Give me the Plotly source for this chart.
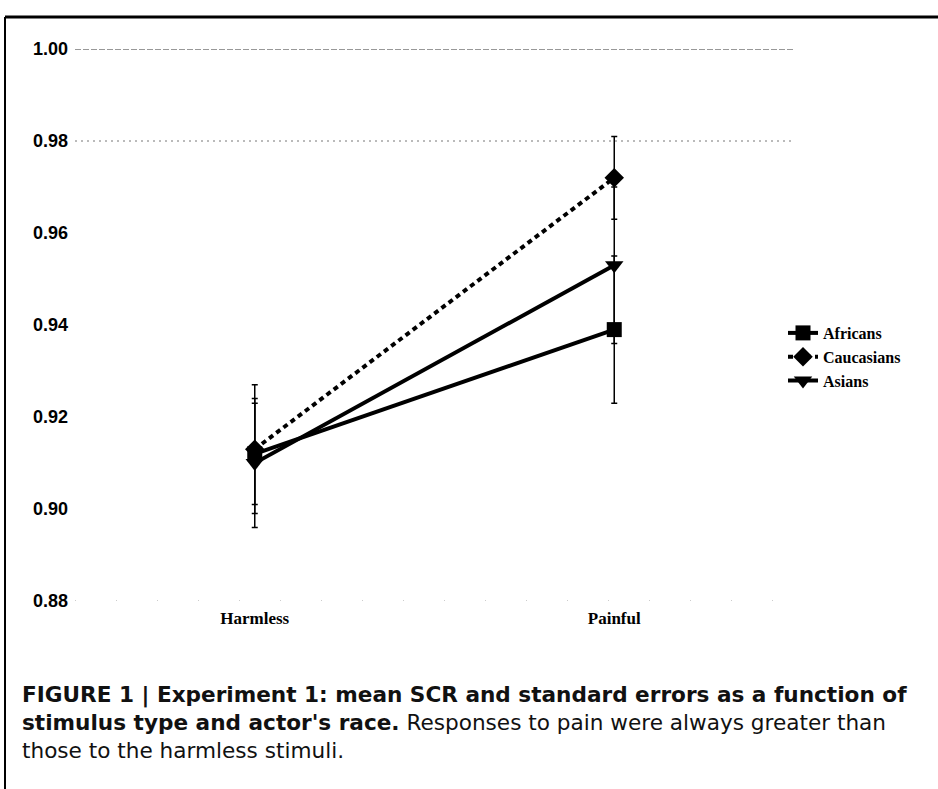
import plotly.graph_objects as go

# Stimulus categories on the x axis
stimuli = ["Harmless", "Painful"]

# Mean skin conductance response per actor race
africans_mean = [0.912, 0.939]
caucasians_mean = [0.913, 0.972]
asians_mean = [0.910, 0.953]

# Standard errors
africans_se = [0.011, 0.016]
caucasians_se = [0.014, 0.009]
asians_se = [0.014, 0.017]

# Y axis ticks
y_ticks = [0.88, 0.90, 0.92, 0.94, 0.96, 0.98, 1.00]

W, H = 938, 789
ML, MR, MT, MB = 75, 144, 49, 188
PW, PH = W - ML - MR, H - MT - MB


def px_x(px):
    return (px - ML) / PW


def px_y(py):
    return (H - MB - py) / PH


series = [
    ("Africans", africans_mean, africans_se, "square", "solid", 15),
    ("Caucasians", caucasians_mean, caucasians_se, "diamond", "5px,4px", 15),
    ("Asians", asians_mean, asians_se, "triangle-down", "solid", 16),
]

fig = go.Figure()
for name, means, ses, symbol, dash, msize in series:
    fig.add_trace(go.Scatter(
        x=stimuli, y=means, name=name, mode="lines+markers",
        line=dict(color="black", width=4, dash=dash),
        marker=dict(symbol=symbol, size=msize, color="black"),
        error_y=dict(type="data", array=ses, visible=True,
                     color="black", thickness=1.5, width=3),
    ))

shapes = [
    # frame lines of the figure panel
    dict(type="line", xref="paper", yref="paper",
         x0=px_x(5), x1=px_x(938), y0=px_y(17), y1=px_y(17),
         line=dict(color="black", width=3)),
    dict(type="line", xref="paper", yref="paper",
         x0=px_x(5), x1=px_x(5), y0=px_y(17), y1=px_y(789),
         line=dict(color="black", width=2)),
    # reference lines
    dict(type="line", xref="paper", yref="y", x0=0, x1=1, y0=1.00, y1=1.00,
         line=dict(color="#333", width=1, dash="6px,2px")),
    dict(type="line", xref="paper", yref="y", x0=0, x1=1, y0=0.98, y1=0.98,
         line=dict(color="#777", width=1, dash="2px,4px")),
    dict(type="line", xref="paper", yref="y", x0=0, x1=1, y0=0.88, y1=0.88,
         line=dict(color="#999", width=1, dash="1px,40px")),
]

caption = (
    "<b>FIGURE 1 | Experiment 1: mean SCR and standard errors as a function of</b><br>"
    "<b>stimulus type and actor's race.</b> Responses to pain were always greater than<br>"
    "those to the harmless stimuli."
)
annotations = [
    dict(xref="paper", yref="paper", x=px_x(20), y=px_y(722),
         xanchor="left", yanchor="middle", align="left", showarrow=False,
         font=dict(family="DejaVu Sans", size=21.6, color="#111"),
         text=caption),
]

fig.update_layout(
    width=W, height=H,
    margin=dict(l=ML, r=MR, t=MT, b=MB),
    paper_bgcolor="white", plot_bgcolor="white",
    showlegend=True,
    legend=dict(x=px_x(783), y=px_y(357), xanchor="left", yanchor="middle",
                font=dict(family="Liberation Serif", size=16, color="black", weight="bold"),
                itemwidth=30, tracegroupgap=0, bgcolor="rgba(0,0,0,0)"),
    xaxis=dict(type="category", range=[-0.5, 1.5], showgrid=False, zeroline=False,
               showline=False, ticks="", ticklabelstandoff=5,
               tickfont=dict(family="Liberation Serif", size=17, color="black", weight="bold")),
    yaxis=dict(range=[0.88, 1.00], tickvals=y_ticks, tickformat=".2f",
               showgrid=False, zeroline=False, showline=False, ticks="",
               ticklabelstandoff=6,
               tickfont=dict(family="Liberation Sans", size=18, color="black", weight="bold")),
    shapes=shapes,
    annotations=annotations,
)

fig.write_html("out.html")
